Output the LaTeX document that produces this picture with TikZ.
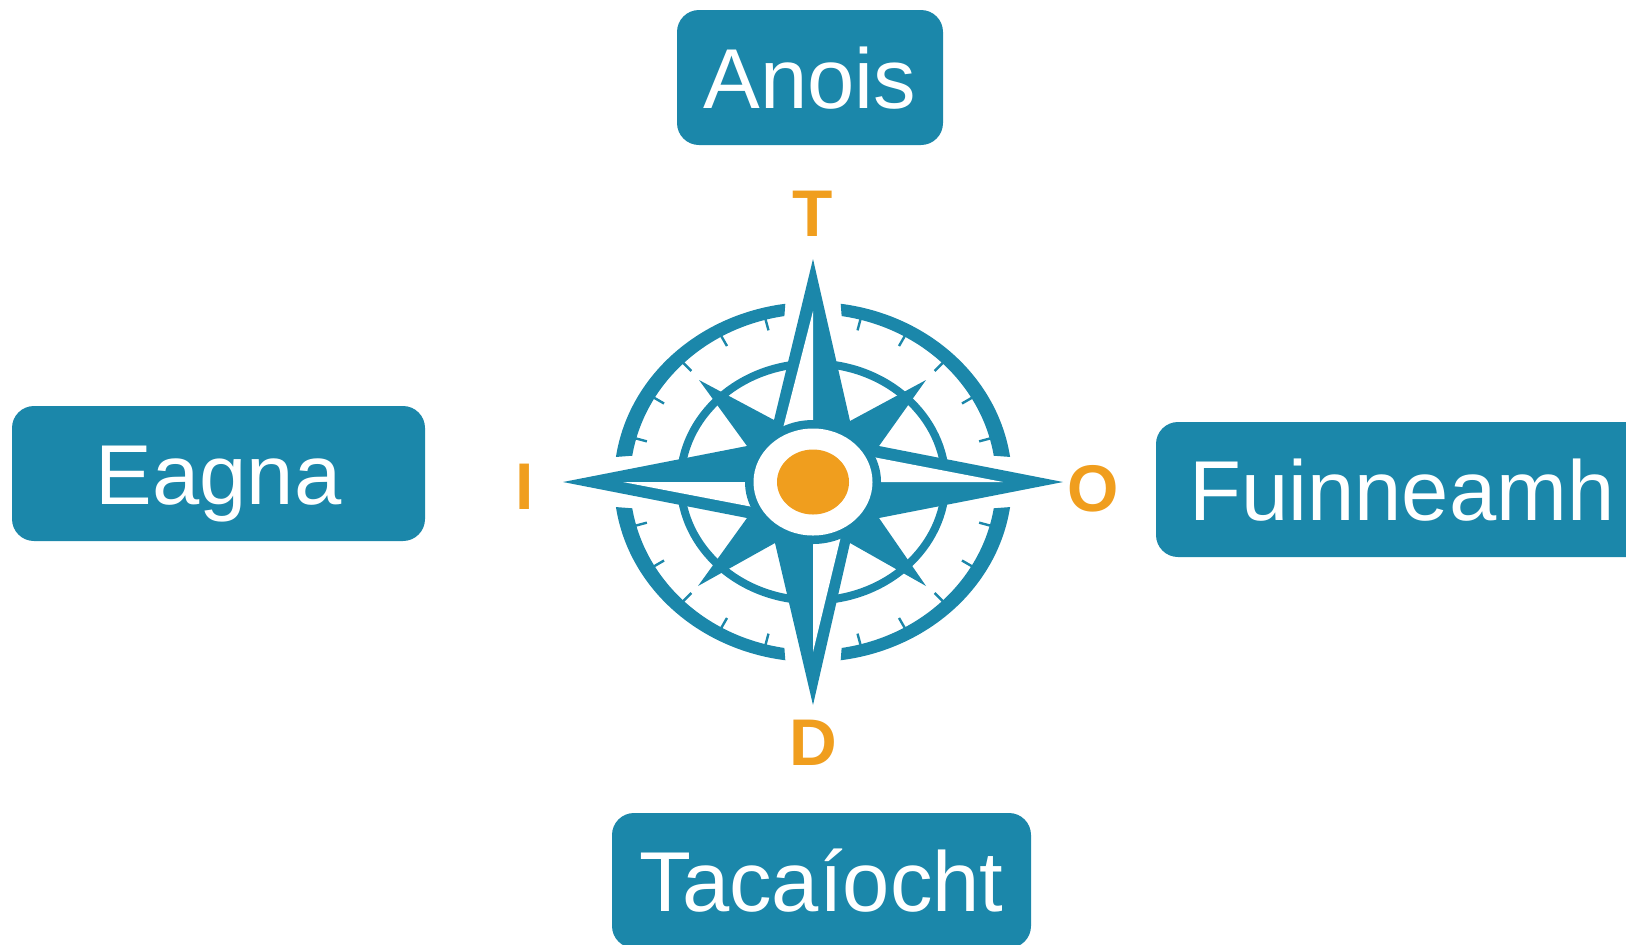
\documentclass[tikz,border=0pt]{standalone}
\usepackage{fontspec}
\setmainfont{Liberation Sans}
\definecolor{compassblue}{HTML}{1B87AA}
\definecolor{compassorange}{HTML}{F09E1E}
\tikzset{
  tagbox/.style={fill=compassblue, rounded corners=11pt, inner sep=0pt, minimum height=67.5pt, text=white, text height=30.5pt, text depth=0pt, font=\fontsize{42.5}{50}\selectfont},
  windletter/.style={text=compassorange, inner sep=0pt, font=\fontsize{33}{40}\selectfont\bfseries},
}
\begin{document}
\begin{tikzpicture}[x=0.5pt,y=-0.5pt]
\useasboundingbox (0,0) rectangle (1626,944);
\node[tagbox, minimum width=133pt] (anois) at (810,77.5) {Anois};
\node[tagbox, minimum width=206.5pt] (eagna) at (218.5,473.5) {Eagna};
\node[tagbox, minimum width=246pt] (fuinneamh) at (1402,489.5) {Fuinneamh};
\node[tagbox, minimum width=209.5pt] (tacaiocht) at (821.5,880.5) {Tacaíocht};
\node[windletter] (t) at (813,213.5) {T};
\node[windletter] (i) at (525,487) {I};
\node[windletter] (o) at (1093,489) {O};
\node[windletter] (d) at (813.5,743) {D};
\begin{scope}[shift={(813,482)}]
\foreach \q in {0,90,180,270} {
  \fill[compassblue] (\q+8:199 and 180) arc[start angle=\q+8, end angle=\q+82, x radius=199, y radius=180] -- (\q+81:183 and 168) arc[start angle=\q+81, end angle=\q+9, x radius=183, y radius=168] -- cycle;
  \foreach \t in {15,30,...,75}
    \draw[compassblue, line width=1.2pt] (\q+\t:184 and 169) -- (\q+\t:172 and 157);
}
\draw[compassblue, line width=4pt] (0,0) ellipse[x radius=132.5, y radius=118.5];
\fill[compassblue] (0,-223) -- (37,-61) -- (113,-102) -- (66,-36) -- (250,0) -- (66,36) -- (113,104) -- (37,61) -- (0,223) -- (-38,61) -- (-115,104) -- (-66,36) -- (-250,0) -- (-66,-36) -- (-114,-102) -- (-39,-62) -- cycle;
\fill[white] (0,-171) -- (0,-50) -- (-31,-50) -- cycle;
\fill[white] (190,0) -- (60,0) -- (60,-25) -- cycle;
\fill[white] (0,170) -- (0,50) -- (29,50) -- cycle;
\fill[white] (-190,0) -- (-60,0) -- (-60,25) -- cycle;
\fill[compassblue] (0,0) ellipse[x radius=68, y radius=62];
\fill[white] (0,0) ellipse[x radius=59.5, y radius=53.5];
\fill[compassorange] (0,0) ellipse[x radius=36, y radius=32.5];
\end{scope}
\end{tikzpicture}
\end{document}
